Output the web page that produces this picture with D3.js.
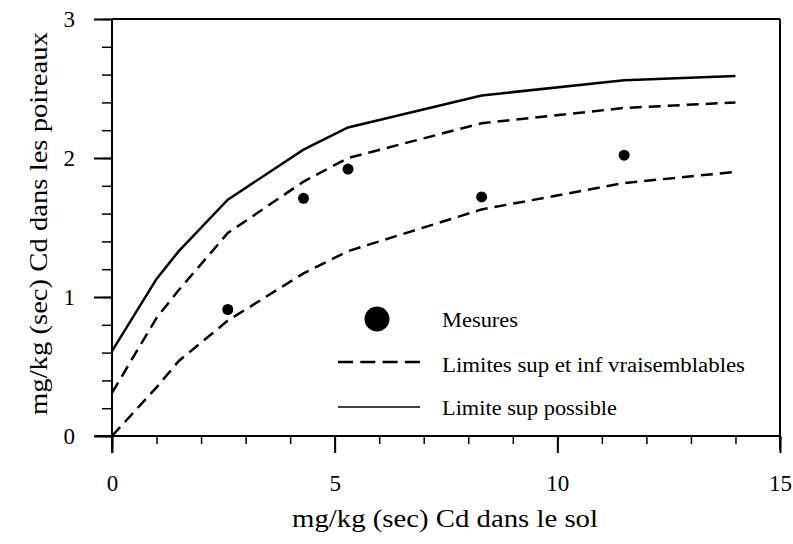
<!DOCTYPE html>
<html>
<head>
<meta charset="utf-8">
<script src="https://cdn.jsdelivr.net/npm/d3@7"></script>
<style>
  body { margin: 0; background: #fff; }
</style>
</head>
<body>
<div id="chart"></div>
<script>
// Données
const sol = [0, 1, 1.5, 2.6, 4.3, 5.3, 8.3, 11.5, 14];
const supPossible = [0.61, 1.13, 1.33, 1.70, 2.06, 2.22, 2.45, 2.56, 2.59];
const supVraisemblable = [0.31, 0.85, 1.05, 1.46, 1.83, 2.00, 2.25, 2.36, 2.40];
const infVraisemblable = [0, 0.35, 0.54, 0.83, 1.17, 1.33, 1.63, 1.82, 1.90];

const mesuresX = [2.6, 4.3, 5.3, 8.3, 11.5];
const mesuresY = [0.91, 1.71, 1.92, 1.72, 2.02];

const xTicks = [0, 5, 10, 15];
const yTicks = [0, 1, 2, 3];

const FONT = 'Liberation Serif';
const width = 793, height = 544;
const margin = { left: 112, right: 13, top: 19, bottom: 108 };

const svg = d3.select('#chart').append('svg')
  .attr('width', width)
  .attr('height', height)
  .attr('font-family', FONT);

const x = d3.scaleLinear().domain([0, 15]).range([margin.left, width - margin.right]);
const y = d3.scaleLinear().domain([0, 3]).range([height - margin.bottom, margin.top]);

// Axe des x (graduations vers le bas)
const xAxisMinor = d3.axisBottom(x).tickValues(d3.range(0, 15.01, 1)).tickSize(8).tickFormat('');
const xAxis = d3.axisBottom(x).tickValues(xTicks).tickSize(17).tickPadding(22).tickFormat(d3.format('d'));

svg.append('g')
  .attr('transform', `translate(0,${y(0)})`)
  .call(xAxisMinor)
  .call(g => g.select('.domain').remove())
  .selectAll('line').attr('stroke-width', 1.5);

svg.append('g')
  .attr('transform', `translate(0,${y(0)})`)
  .call(xAxis)
  .attr('font-family', FONT)
  .call(g => g.select('.domain').remove())
  .call(g => g.selectAll('line').attr('stroke-width', 2))
  .call(g => g.selectAll('text').attr('font-size', 23).attr('font-family', FONT));

// Axe des y (graduations vers la gauche)
const yAxisMinor = d3.axisLeft(y).tickValues(d3.range(0, 3.001, 0.2)).tickSize(10).tickFormat('');
const yAxis = d3.axisLeft(y).tickValues(yTicks).tickSize(18).tickPadding(19).tickFormat(d3.format('d'));

svg.append('g')
  .attr('transform', `translate(${x(0)},0)`)
  .call(yAxisMinor)
  .call(g => g.select('.domain').remove())
  .selectAll('line').attr('stroke-width', 1.5);

svg.append('g')
  .attr('transform', `translate(${x(0)},0)`)
  .call(yAxis)
  .attr('font-family', FONT)
  .call(g => g.select('.domain').remove())
  .call(g => g.selectAll('line').attr('stroke-width', 2))
  .call(g => g.selectAll('text').attr('font-size', 23).attr('font-family', FONT));

// Cadre
const frame = svg.append('g').attr('stroke', '#000').attr('stroke-width', 2).attr('fill', 'none');
frame.append('line').attr('x1', x(0) - 17).attr('x2', x(15)).attr('y1', y(0)).attr('y2', y(0));
frame.append('line').attr('x1', x(0)).attr('x2', x(0)).attr('y1', y(3)).attr('y2', y(0) + 17);
frame.append('line').attr('x1', x(0)).attr('x2', x(15)).attr('y1', y(3)).attr('y2', y(3));
frame.append('line').attr('x1', x(15)).attr('x2', x(15)).attr('y1', y(3)).attr('y2', y(0) + 14);

// Courbes
const line = d3.line().x(d => x(d[0])).y(d => y(d[1]));
const courbes = [
  { values: supPossible, dash: null },
  { values: supVraisemblable, dash: '12,7' },
  { values: infVraisemblable, dash: '12,7' }
];
svg.append('g').selectAll('path')
  .data(courbes)
  .enter().append('path')
  .attr('d', d => line(sol.map((s, i) => [s, d.values[i]])))
  .attr('fill', 'none')
  .attr('stroke', '#000')
  .attr('stroke-width', 2.5)
  .attr('stroke-dasharray', d => d.dash);

// Mesures
svg.append('g').selectAll('circle')
  .data(mesuresX.map((m, i) => [m, mesuresY[i]]))
  .enter().append('circle')
  .attr('cx', d => x(d[0]))
  .attr('cy', d => y(d[1]))
  .attr('r', 5.5)
  .attr('fill', '#000');

// Légende
const legend = svg.append('g').attr('class', 'legend');
legend.append('circle').attr('cx', 377).attr('cy', 319).attr('r', 12.5).attr('fill', '#000');
legend.append('line').attr('x1', 338).attr('x2', 420).attr('y1', 362).attr('y2', 362)
  .attr('stroke', '#000').attr('stroke-width', 2.5).attr('stroke-dasharray', '15,7.3');
legend.append('line').attr('x1', 338).attr('x2', 420).attr('y1', 407).attr('y2', 407)
  .attr('stroke', '#000').attr('stroke-width', 1.5);
const labels = ['Mesures', 'Limites sup et inf vraisemblables', 'Limite sup possible'];
const labelWidths = [76, 303, 175];
legend.selectAll('.lab')
  .data(labels)
  .enter().append('text')
  .attr('class', 'lab')
  .attr('x', 442)
  .attr('y', (d, i) => [327, 372, 415][i])
  .attr('font-size', 20)
  .attr('font-family', FONT)
  .attr('textLength', (d, i) => labelWidths[i])
  .attr('lengthAdjust', 'spacingAndGlyphs')
  .text(d => d);

// Titres des axes
svg.append('text')
  .attr('x', 292)
  .attr('y', 527)
  .attr('font-size', 25)
  .attr('font-family', FONT)
  .attr('textLength', 306)
  .attr('lengthAdjust', 'spacingAndGlyphs')
  .text('mg/kg (sec) Cd dans le sol');

svg.append('text')
  .attr('transform', 'translate(47,415) rotate(-90)')
  .attr('font-size', 25)
  .attr('font-family', FONT)
  .attr('textLength', 383)
  .attr('lengthAdjust', 'spacingAndGlyphs')
  .text('mg/kg (sec) Cd dans les poireaux');
</script>
</body>
</html>
